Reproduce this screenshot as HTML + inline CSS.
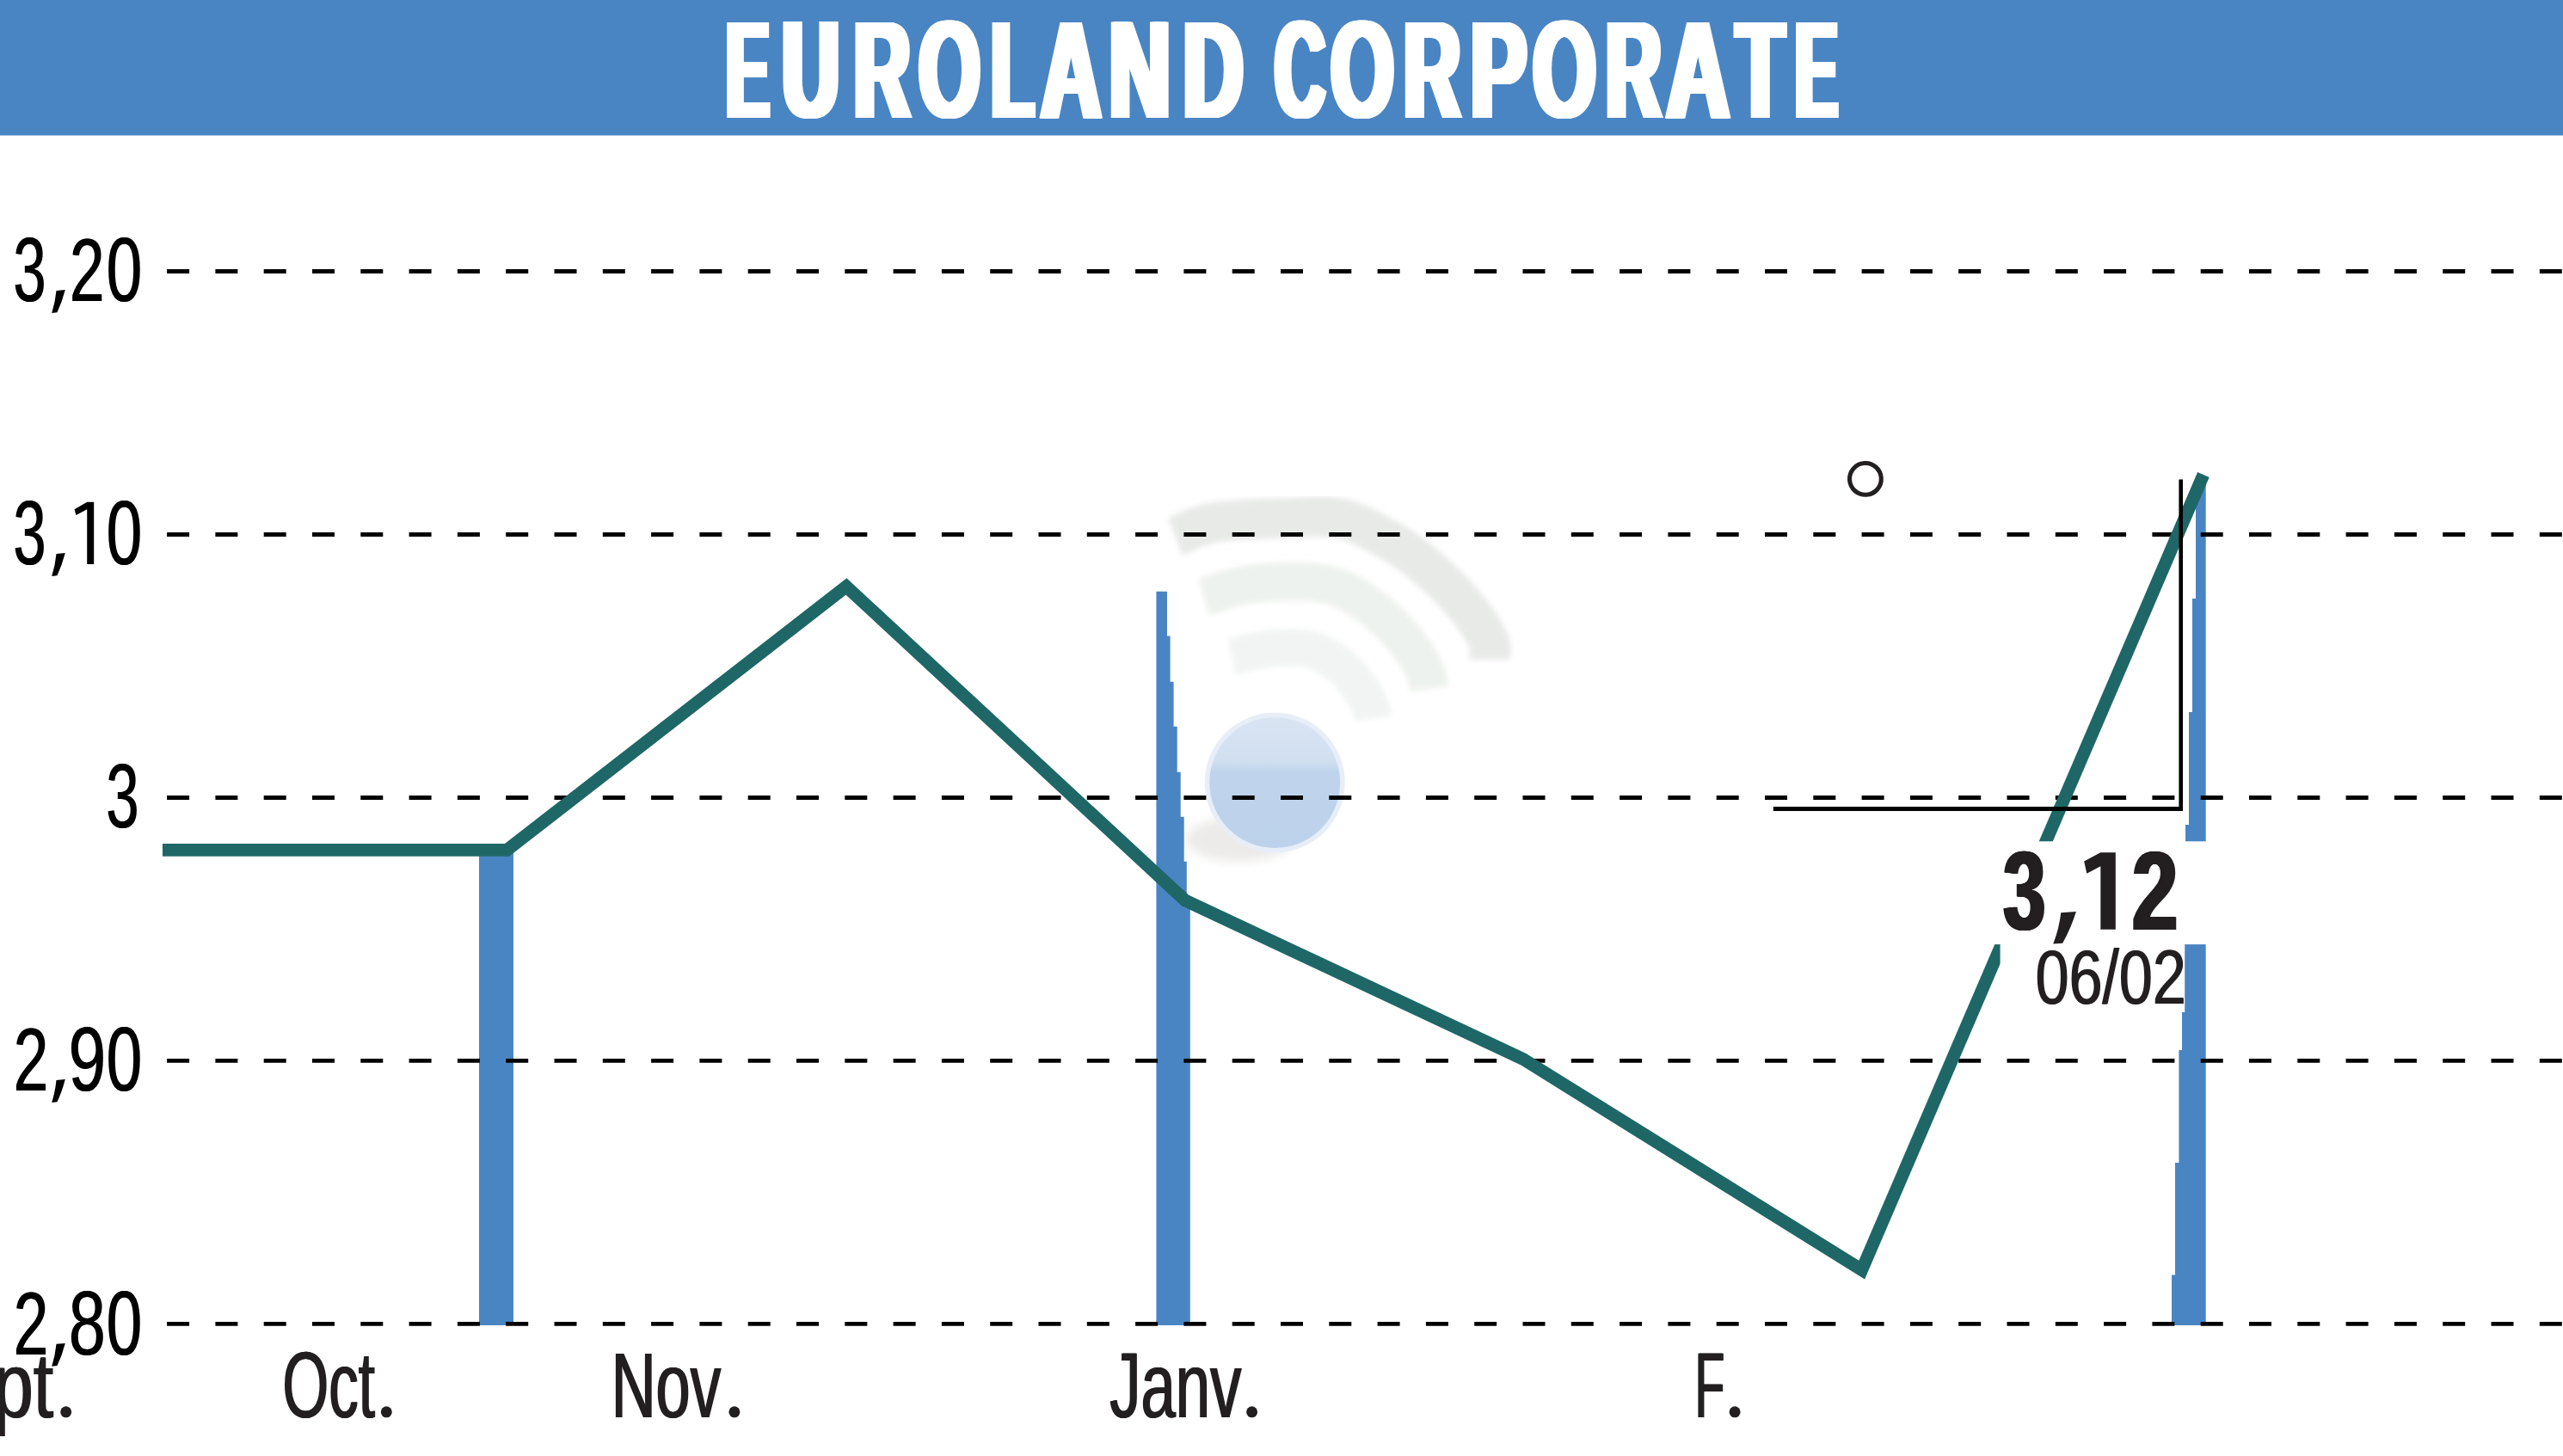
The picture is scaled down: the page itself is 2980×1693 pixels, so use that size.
<!DOCTYPE html>
<html lang="fr">
<head>
<meta charset="utf-8">
<title>EUROLAND CORPORATE</title>
<style>
html,body{margin:0;padding:0;background:#fff;}
body{width:2980px;height:1693px;overflow:hidden;position:relative;}
svg{position:absolute;left:0;top:0;display:block;}
text{font-family:"Liberation Sans",sans-serif;white-space:pre;}
</style>
</head>
<body>
<svg width="2980" height="1693" viewBox="0 0 2980 1693">
<defs>
<filter id="blur3" x="-10%" y="-10%" width="120%" height="120%"><feGaussianBlur stdDeviation="3"/></filter>
<filter id="blur6" x="-20%" y="-50%" width="140%" height="200%"><feGaussianBlur stdDeviation="6"/></filter>
<linearGradient id="ballg" x1="0" y1="0" x2="0" y2="1">
<stop offset="0" stop-color="#d9e4f3"/><stop offset="0.34" stop-color="#d1dff0"/>
<stop offset="0.42" stop-color="#bfd4ec"/><stop offset="1" stop-color="#bcd2ea"/>
</linearGradient>
</defs>
<rect x="0" y="0" width="2980" height="1693" fill="#fff"/>

<rect x="0" y="0" width="2980" height="157.5" fill="#4a85c3"/>
<g id="title">
<text transform="translate(840.23,136.50) scale(0.4556,1)" font-size="162.06" font-weight="700" fill="#fff">E</text>
<text transform="translate(841.04,136.50) scale(0.4556,1)" font-size="162.06" font-weight="700" fill="#fff">E</text>
<text transform="translate(841.86,136.50) scale(0.4556,1)" font-size="162.06" font-weight="700" fill="#fff">E</text>
<text transform="translate(842.68,136.50) scale(0.4556,1)" font-size="162.06" font-weight="700" fill="#fff">E</text>
<text transform="translate(843.50,136.50) scale(0.4556,1)" font-size="162.06" font-weight="700" fill="#fff">E</text>
<text transform="translate(844.32,136.50) scale(0.4556,1)" font-size="162.06" font-weight="700" fill="#fff">E</text>
<text transform="translate(845.14,136.50) scale(0.4556,1)" font-size="162.06" font-weight="700" fill="#fff">E</text>
<text transform="translate(845.95,136.50) scale(0.4556,1)" font-size="162.06" font-weight="700" fill="#fff">E</text>
<text transform="translate(846.77,136.50) scale(0.4556,1)" font-size="162.06" font-weight="700" fill="#fff">E</text>
<text transform="translate(847.59,136.50) scale(0.4556,1)" font-size="162.06" font-weight="700" fill="#fff">E</text>
<text transform="translate(848.41,136.50) scale(0.4556,1)" font-size="162.06" font-weight="700" fill="#fff">E</text>
<text transform="translate(849.23,136.50) scale(0.4556,1)" font-size="162.06" font-weight="700" fill="#fff">E</text>
<text transform="translate(905.10,136.38) scale(0.5664,1)" font-size="161.89" font-weight="700" fill="#fff">U</text>
<text transform="translate(905.92,136.38) scale(0.5664,1)" font-size="161.89" font-weight="700" fill="#fff">U</text>
<text transform="translate(906.73,136.38) scale(0.5664,1)" font-size="161.89" font-weight="700" fill="#fff">U</text>
<text transform="translate(907.55,136.38) scale(0.5664,1)" font-size="161.89" font-weight="700" fill="#fff">U</text>
<text transform="translate(908.37,136.38) scale(0.5664,1)" font-size="161.89" font-weight="700" fill="#fff">U</text>
<text transform="translate(909.19,136.38) scale(0.5664,1)" font-size="161.89" font-weight="700" fill="#fff">U</text>
<text transform="translate(910.01,136.38) scale(0.5664,1)" font-size="161.89" font-weight="700" fill="#fff">U</text>
<text transform="translate(910.83,136.38) scale(0.5664,1)" font-size="161.89" font-weight="700" fill="#fff">U</text>
<text transform="translate(911.64,136.38) scale(0.5664,1)" font-size="161.89" font-weight="700" fill="#fff">U</text>
<text transform="translate(912.46,136.38) scale(0.5664,1)" font-size="161.89" font-weight="700" fill="#fff">U</text>
<text transform="translate(913.28,136.38) scale(0.5664,1)" font-size="161.89" font-weight="700" fill="#fff">U</text>
<text transform="translate(914.10,136.38) scale(0.5664,1)" font-size="161.89" font-weight="700" fill="#fff">U</text>
<text transform="translate(988.54,136.50) scale(0.5569,1)" font-size="162.06" font-weight="700" fill="#fff">R</text>
<text transform="translate(989.36,136.50) scale(0.5569,1)" font-size="162.06" font-weight="700" fill="#fff">R</text>
<text transform="translate(990.18,136.50) scale(0.5569,1)" font-size="162.06" font-weight="700" fill="#fff">R</text>
<text transform="translate(991.00,136.50) scale(0.5569,1)" font-size="162.06" font-weight="700" fill="#fff">R</text>
<text transform="translate(991.82,136.50) scale(0.5569,1)" font-size="162.06" font-weight="700" fill="#fff">R</text>
<text transform="translate(992.63,136.50) scale(0.5569,1)" font-size="162.06" font-weight="700" fill="#fff">R</text>
<text transform="translate(993.45,136.50) scale(0.5569,1)" font-size="162.06" font-weight="700" fill="#fff">R</text>
<text transform="translate(994.27,136.50) scale(0.5569,1)" font-size="162.06" font-weight="700" fill="#fff">R</text>
<text transform="translate(995.09,136.50) scale(0.5569,1)" font-size="162.06" font-weight="700" fill="#fff">R</text>
<text transform="translate(995.91,136.50) scale(0.5569,1)" font-size="162.06" font-weight="700" fill="#fff">R</text>
<text transform="translate(996.73,136.50) scale(0.5569,1)" font-size="162.06" font-weight="700" fill="#fff">R</text>
<text transform="translate(997.54,136.50) scale(0.5569,1)" font-size="162.06" font-weight="700" fill="#fff">R</text>
<text transform="translate(1063.94,136.38) scale(0.5676,1)" font-size="161.72" font-weight="700" fill="#fff">O</text>
<text transform="translate(1064.79,136.38) scale(0.5676,1)" font-size="161.72" font-weight="700" fill="#fff">O</text>
<text transform="translate(1065.64,136.38) scale(0.5676,1)" font-size="161.72" font-weight="700" fill="#fff">O</text>
<text transform="translate(1066.49,136.38) scale(0.5676,1)" font-size="161.72" font-weight="700" fill="#fff">O</text>
<text transform="translate(1067.34,136.38) scale(0.5676,1)" font-size="161.72" font-weight="700" fill="#fff">O</text>
<text transform="translate(1068.19,136.38) scale(0.5676,1)" font-size="161.72" font-weight="700" fill="#fff">O</text>
<text transform="translate(1069.04,136.38) scale(0.5676,1)" font-size="161.72" font-weight="700" fill="#fff">O</text>
<text transform="translate(1069.89,136.38) scale(0.5676,1)" font-size="161.72" font-weight="700" fill="#fff">O</text>
<text transform="translate(1070.74,136.38) scale(0.5676,1)" font-size="161.72" font-weight="700" fill="#fff">O</text>
<text transform="translate(1071.59,136.38) scale(0.5676,1)" font-size="161.72" font-weight="700" fill="#fff">O</text>
<text transform="translate(1072.44,136.38) scale(0.5676,1)" font-size="161.72" font-weight="700" fill="#fff">O</text>
<text transform="translate(1148.37,136.50) scale(0.4984,1)" font-size="162.06" font-weight="700" fill="#fff">L</text>
<text transform="translate(1149.19,136.50) scale(0.4984,1)" font-size="162.06" font-weight="700" fill="#fff">L</text>
<text transform="translate(1150.01,136.50) scale(0.4984,1)" font-size="162.06" font-weight="700" fill="#fff">L</text>
<text transform="translate(1150.82,136.50) scale(0.4984,1)" font-size="162.06" font-weight="700" fill="#fff">L</text>
<text transform="translate(1151.64,136.50) scale(0.4984,1)" font-size="162.06" font-weight="700" fill="#fff">L</text>
<text transform="translate(1152.46,136.50) scale(0.4984,1)" font-size="162.06" font-weight="700" fill="#fff">L</text>
<text transform="translate(1153.28,136.50) scale(0.4984,1)" font-size="162.06" font-weight="700" fill="#fff">L</text>
<text transform="translate(1154.10,136.50) scale(0.4984,1)" font-size="162.06" font-weight="700" fill="#fff">L</text>
<text transform="translate(1154.91,136.50) scale(0.4984,1)" font-size="162.06" font-weight="700" fill="#fff">L</text>
<text transform="translate(1155.73,136.50) scale(0.4984,1)" font-size="162.06" font-weight="700" fill="#fff">L</text>
<text transform="translate(1156.55,136.50) scale(0.4984,1)" font-size="162.06" font-weight="700" fill="#fff">L</text>
<text transform="translate(1157.37,136.50) scale(0.4984,1)" font-size="162.06" font-weight="700" fill="#fff">L</text>
<text transform="translate(1206.09,136.50) scale(0.5941,1)" font-size="162.06" font-weight="700" fill="#fff">A</text>
<text transform="translate(1206.91,136.50) scale(0.5941,1)" font-size="162.06" font-weight="700" fill="#fff">A</text>
<text transform="translate(1207.73,136.50) scale(0.5941,1)" font-size="162.06" font-weight="700" fill="#fff">A</text>
<text transform="translate(1208.54,136.50) scale(0.5941,1)" font-size="162.06" font-weight="700" fill="#fff">A</text>
<text transform="translate(1209.36,136.50) scale(0.5941,1)" font-size="162.06" font-weight="700" fill="#fff">A</text>
<text transform="translate(1210.18,136.50) scale(0.5941,1)" font-size="162.06" font-weight="700" fill="#fff">A</text>
<text transform="translate(1211.00,136.50) scale(0.5941,1)" font-size="162.06" font-weight="700" fill="#fff">A</text>
<text transform="translate(1211.82,136.50) scale(0.5941,1)" font-size="162.06" font-weight="700" fill="#fff">A</text>
<text transform="translate(1212.63,136.50) scale(0.5941,1)" font-size="162.06" font-weight="700" fill="#fff">A</text>
<text transform="translate(1213.45,136.50) scale(0.5941,1)" font-size="162.06" font-weight="700" fill="#fff">A</text>
<text transform="translate(1214.27,136.50) scale(0.5941,1)" font-size="162.06" font-weight="700" fill="#fff">A</text>
<text transform="translate(1215.09,136.50) scale(0.5941,1)" font-size="162.06" font-weight="700" fill="#fff">A</text>
<text transform="translate(1285.21,136.50) scale(0.6066,1)" font-size="162.06" font-weight="700" fill="#fff">N</text>
<text transform="translate(1286.03,136.50) scale(0.6066,1)" font-size="162.06" font-weight="700" fill="#fff">N</text>
<text transform="translate(1286.85,136.50) scale(0.6066,1)" font-size="162.06" font-weight="700" fill="#fff">N</text>
<text transform="translate(1287.67,136.50) scale(0.6066,1)" font-size="162.06" font-weight="700" fill="#fff">N</text>
<text transform="translate(1288.48,136.50) scale(0.6066,1)" font-size="162.06" font-weight="700" fill="#fff">N</text>
<text transform="translate(1289.30,136.50) scale(0.6066,1)" font-size="162.06" font-weight="700" fill="#fff">N</text>
<text transform="translate(1290.12,136.50) scale(0.6066,1)" font-size="162.06" font-weight="700" fill="#fff">N</text>
<text transform="translate(1290.94,136.50) scale(0.6066,1)" font-size="162.06" font-weight="700" fill="#fff">N</text>
<text transform="translate(1291.76,136.50) scale(0.6066,1)" font-size="162.06" font-weight="700" fill="#fff">N</text>
<text transform="translate(1292.58,136.50) scale(0.6066,1)" font-size="162.06" font-weight="700" fill="#fff">N</text>
<text transform="translate(1293.39,136.50) scale(0.6066,1)" font-size="162.06" font-weight="700" fill="#fff">N</text>
<text transform="translate(1294.21,136.50) scale(0.6066,1)" font-size="162.06" font-weight="700" fill="#fff">N</text>
<text transform="translate(1371.34,136.50) scale(0.5950,1)" font-size="162.06" font-weight="700" fill="#fff">D</text>
<text transform="translate(1372.15,136.50) scale(0.5950,1)" font-size="162.06" font-weight="700" fill="#fff">D</text>
<text transform="translate(1372.97,136.50) scale(0.5950,1)" font-size="162.06" font-weight="700" fill="#fff">D</text>
<text transform="translate(1373.79,136.50) scale(0.5950,1)" font-size="162.06" font-weight="700" fill="#fff">D</text>
<text transform="translate(1374.61,136.50) scale(0.5950,1)" font-size="162.06" font-weight="700" fill="#fff">D</text>
<text transform="translate(1375.43,136.50) scale(0.5950,1)" font-size="162.06" font-weight="700" fill="#fff">D</text>
<text transform="translate(1376.25,136.50) scale(0.5950,1)" font-size="162.06" font-weight="700" fill="#fff">D</text>
<text transform="translate(1377.06,136.50) scale(0.5950,1)" font-size="162.06" font-weight="700" fill="#fff">D</text>
<text transform="translate(1377.88,136.50) scale(0.5950,1)" font-size="162.06" font-weight="700" fill="#fff">D</text>
<text transform="translate(1378.70,136.50) scale(0.5950,1)" font-size="162.06" font-weight="700" fill="#fff">D</text>
<text transform="translate(1379.52,136.50) scale(0.5950,1)" font-size="162.06" font-weight="700" fill="#fff">D</text>
<text transform="translate(1380.34,136.50) scale(0.5950,1)" font-size="162.06" font-weight="700" fill="#fff">D</text>
<text transform="translate(1477.99,136.38) scale(0.4992,1)" font-size="161.72" font-weight="700" fill="#fff">C</text>
<text transform="translate(1478.84,136.38) scale(0.4992,1)" font-size="161.72" font-weight="700" fill="#fff">C</text>
<text transform="translate(1479.69,136.38) scale(0.4992,1)" font-size="161.72" font-weight="700" fill="#fff">C</text>
<text transform="translate(1480.54,136.38) scale(0.4992,1)" font-size="161.72" font-weight="700" fill="#fff">C</text>
<text transform="translate(1481.39,136.38) scale(0.4992,1)" font-size="161.72" font-weight="700" fill="#fff">C</text>
<text transform="translate(1482.24,136.38) scale(0.4992,1)" font-size="161.72" font-weight="700" fill="#fff">C</text>
<text transform="translate(1483.09,136.38) scale(0.4992,1)" font-size="161.72" font-weight="700" fill="#fff">C</text>
<text transform="translate(1483.94,136.38) scale(0.4992,1)" font-size="161.72" font-weight="700" fill="#fff">C</text>
<text transform="translate(1484.79,136.38) scale(0.4992,1)" font-size="161.72" font-weight="700" fill="#fff">C</text>
<text transform="translate(1485.64,136.38) scale(0.4992,1)" font-size="161.72" font-weight="700" fill="#fff">C</text>
<text transform="translate(1486.49,136.38) scale(0.4992,1)" font-size="161.72" font-weight="700" fill="#fff">C</text>
<text transform="translate(1542.93,136.38) scale(0.5836,1)" font-size="161.72" font-weight="700" fill="#fff">O</text>
<text transform="translate(1543.78,136.38) scale(0.5836,1)" font-size="161.72" font-weight="700" fill="#fff">O</text>
<text transform="translate(1544.63,136.38) scale(0.5836,1)" font-size="161.72" font-weight="700" fill="#fff">O</text>
<text transform="translate(1545.48,136.38) scale(0.5836,1)" font-size="161.72" font-weight="700" fill="#fff">O</text>
<text transform="translate(1546.33,136.38) scale(0.5836,1)" font-size="161.72" font-weight="700" fill="#fff">O</text>
<text transform="translate(1547.18,136.38) scale(0.5836,1)" font-size="161.72" font-weight="700" fill="#fff">O</text>
<text transform="translate(1548.03,136.38) scale(0.5836,1)" font-size="161.72" font-weight="700" fill="#fff">O</text>
<text transform="translate(1548.88,136.38) scale(0.5836,1)" font-size="161.72" font-weight="700" fill="#fff">O</text>
<text transform="translate(1549.73,136.38) scale(0.5836,1)" font-size="161.72" font-weight="700" fill="#fff">O</text>
<text transform="translate(1550.58,136.38) scale(0.5836,1)" font-size="161.72" font-weight="700" fill="#fff">O</text>
<text transform="translate(1551.43,136.38) scale(0.5836,1)" font-size="161.72" font-weight="700" fill="#fff">O</text>
<text transform="translate(1627.69,136.50) scale(0.5617,1)" font-size="162.06" font-weight="700" fill="#fff">R</text>
<text transform="translate(1628.51,136.50) scale(0.5617,1)" font-size="162.06" font-weight="700" fill="#fff">R</text>
<text transform="translate(1629.33,136.50) scale(0.5617,1)" font-size="162.06" font-weight="700" fill="#fff">R</text>
<text transform="translate(1630.15,136.50) scale(0.5617,1)" font-size="162.06" font-weight="700" fill="#fff">R</text>
<text transform="translate(1630.96,136.50) scale(0.5617,1)" font-size="162.06" font-weight="700" fill="#fff">R</text>
<text transform="translate(1631.78,136.50) scale(0.5617,1)" font-size="162.06" font-weight="700" fill="#fff">R</text>
<text transform="translate(1632.60,136.50) scale(0.5617,1)" font-size="162.06" font-weight="700" fill="#fff">R</text>
<text transform="translate(1633.42,136.50) scale(0.5617,1)" font-size="162.06" font-weight="700" fill="#fff">R</text>
<text transform="translate(1634.24,136.50) scale(0.5617,1)" font-size="162.06" font-weight="700" fill="#fff">R</text>
<text transform="translate(1635.06,136.50) scale(0.5617,1)" font-size="162.06" font-weight="700" fill="#fff">R</text>
<text transform="translate(1635.87,136.50) scale(0.5617,1)" font-size="162.06" font-weight="700" fill="#fff">R</text>
<text transform="translate(1636.69,136.50) scale(0.5617,1)" font-size="162.06" font-weight="700" fill="#fff">R</text>
<text transform="translate(1705.59,136.50) scale(0.5996,1)" font-size="162.06" font-weight="700" fill="#fff">P</text>
<text transform="translate(1706.40,136.50) scale(0.5996,1)" font-size="162.06" font-weight="700" fill="#fff">P</text>
<text transform="translate(1707.22,136.50) scale(0.5996,1)" font-size="162.06" font-weight="700" fill="#fff">P</text>
<text transform="translate(1708.04,136.50) scale(0.5996,1)" font-size="162.06" font-weight="700" fill="#fff">P</text>
<text transform="translate(1708.86,136.50) scale(0.5996,1)" font-size="162.06" font-weight="700" fill="#fff">P</text>
<text transform="translate(1709.68,136.50) scale(0.5996,1)" font-size="162.06" font-weight="700" fill="#fff">P</text>
<text transform="translate(1710.50,136.50) scale(0.5996,1)" font-size="162.06" font-weight="700" fill="#fff">P</text>
<text transform="translate(1711.31,136.50) scale(0.5996,1)" font-size="162.06" font-weight="700" fill="#fff">P</text>
<text transform="translate(1712.13,136.50) scale(0.5996,1)" font-size="162.06" font-weight="700" fill="#fff">P</text>
<text transform="translate(1712.95,136.50) scale(0.5996,1)" font-size="162.06" font-weight="700" fill="#fff">P</text>
<text transform="translate(1713.77,136.50) scale(0.5996,1)" font-size="162.06" font-weight="700" fill="#fff">P</text>
<text transform="translate(1714.59,136.50) scale(0.5996,1)" font-size="162.06" font-weight="700" fill="#fff">P</text>
<text transform="translate(1777.93,136.38) scale(0.5836,1)" font-size="161.72" font-weight="700" fill="#fff">O</text>
<text transform="translate(1778.78,136.38) scale(0.5836,1)" font-size="161.72" font-weight="700" fill="#fff">O</text>
<text transform="translate(1779.63,136.38) scale(0.5836,1)" font-size="161.72" font-weight="700" fill="#fff">O</text>
<text transform="translate(1780.48,136.38) scale(0.5836,1)" font-size="161.72" font-weight="700" fill="#fff">O</text>
<text transform="translate(1781.33,136.38) scale(0.5836,1)" font-size="161.72" font-weight="700" fill="#fff">O</text>
<text transform="translate(1782.18,136.38) scale(0.5836,1)" font-size="161.72" font-weight="700" fill="#fff">O</text>
<text transform="translate(1783.03,136.38) scale(0.5836,1)" font-size="161.72" font-weight="700" fill="#fff">O</text>
<text transform="translate(1783.88,136.38) scale(0.5836,1)" font-size="161.72" font-weight="700" fill="#fff">O</text>
<text transform="translate(1784.73,136.38) scale(0.5836,1)" font-size="161.72" font-weight="700" fill="#fff">O</text>
<text transform="translate(1785.58,136.38) scale(0.5836,1)" font-size="161.72" font-weight="700" fill="#fff">O</text>
<text transform="translate(1786.43,136.38) scale(0.5836,1)" font-size="161.72" font-weight="700" fill="#fff">O</text>
<text transform="translate(1862.84,136.50) scale(0.5482,1)" font-size="162.06" font-weight="700" fill="#fff">R</text>
<text transform="translate(1863.65,136.50) scale(0.5482,1)" font-size="162.06" font-weight="700" fill="#fff">R</text>
<text transform="translate(1864.47,136.50) scale(0.5482,1)" font-size="162.06" font-weight="700" fill="#fff">R</text>
<text transform="translate(1865.29,136.50) scale(0.5482,1)" font-size="162.06" font-weight="700" fill="#fff">R</text>
<text transform="translate(1866.11,136.50) scale(0.5482,1)" font-size="162.06" font-weight="700" fill="#fff">R</text>
<text transform="translate(1866.93,136.50) scale(0.5482,1)" font-size="162.06" font-weight="700" fill="#fff">R</text>
<text transform="translate(1867.75,136.50) scale(0.5482,1)" font-size="162.06" font-weight="700" fill="#fff">R</text>
<text transform="translate(1868.56,136.50) scale(0.5482,1)" font-size="162.06" font-weight="700" fill="#fff">R</text>
<text transform="translate(1869.38,136.50) scale(0.5482,1)" font-size="162.06" font-weight="700" fill="#fff">R</text>
<text transform="translate(1870.20,136.50) scale(0.5482,1)" font-size="162.06" font-weight="700" fill="#fff">R</text>
<text transform="translate(1871.02,136.50) scale(0.5482,1)" font-size="162.06" font-weight="700" fill="#fff">R</text>
<text transform="translate(1871.84,136.50) scale(0.5482,1)" font-size="162.06" font-weight="700" fill="#fff">R</text>
<text transform="translate(1933.17,136.50) scale(0.6235,1)" font-size="162.06" font-weight="700" fill="#fff">A</text>
<text transform="translate(1933.99,136.50) scale(0.6235,1)" font-size="162.06" font-weight="700" fill="#fff">A</text>
<text transform="translate(1934.81,136.50) scale(0.6235,1)" font-size="162.06" font-weight="700" fill="#fff">A</text>
<text transform="translate(1935.63,136.50) scale(0.6235,1)" font-size="162.06" font-weight="700" fill="#fff">A</text>
<text transform="translate(1936.45,136.50) scale(0.6235,1)" font-size="162.06" font-weight="700" fill="#fff">A</text>
<text transform="translate(1937.27,136.50) scale(0.6235,1)" font-size="162.06" font-weight="700" fill="#fff">A</text>
<text transform="translate(1938.08,136.50) scale(0.6235,1)" font-size="162.06" font-weight="700" fill="#fff">A</text>
<text transform="translate(1938.90,136.50) scale(0.6235,1)" font-size="162.06" font-weight="700" fill="#fff">A</text>
<text transform="translate(1939.72,136.50) scale(0.6235,1)" font-size="162.06" font-weight="700" fill="#fff">A</text>
<text transform="translate(1940.54,136.50) scale(0.6235,1)" font-size="162.06" font-weight="700" fill="#fff">A</text>
<text transform="translate(1941.36,136.50) scale(0.6235,1)" font-size="162.06" font-weight="700" fill="#fff">A</text>
<text transform="translate(1942.17,136.50) scale(0.6235,1)" font-size="162.06" font-weight="700" fill="#fff">A</text>
<text transform="translate(2014.40,136.50) scale(0.5606,1)" font-size="162.06" font-weight="700" fill="#fff">T</text>
<text transform="translate(2015.22,136.50) scale(0.5606,1)" font-size="162.06" font-weight="700" fill="#fff">T</text>
<text transform="translate(2016.04,136.50) scale(0.5606,1)" font-size="162.06" font-weight="700" fill="#fff">T</text>
<text transform="translate(2016.86,136.50) scale(0.5606,1)" font-size="162.06" font-weight="700" fill="#fff">T</text>
<text transform="translate(2017.67,136.50) scale(0.5606,1)" font-size="162.06" font-weight="700" fill="#fff">T</text>
<text transform="translate(2018.49,136.50) scale(0.5606,1)" font-size="162.06" font-weight="700" fill="#fff">T</text>
<text transform="translate(2019.31,136.50) scale(0.5606,1)" font-size="162.06" font-weight="700" fill="#fff">T</text>
<text transform="translate(2020.13,136.50) scale(0.5606,1)" font-size="162.06" font-weight="700" fill="#fff">T</text>
<text transform="translate(2020.95,136.50) scale(0.5606,1)" font-size="162.06" font-weight="700" fill="#fff">T</text>
<text transform="translate(2021.76,136.50) scale(0.5606,1)" font-size="162.06" font-weight="700" fill="#fff">T</text>
<text transform="translate(2022.58,136.50) scale(0.5606,1)" font-size="162.06" font-weight="700" fill="#fff">T</text>
<text transform="translate(2023.40,136.50) scale(0.5606,1)" font-size="162.06" font-weight="700" fill="#fff">T</text>
<text transform="translate(2083.21,136.50) scale(0.4480,1)" font-size="162.06" font-weight="700" fill="#fff">E</text>
<text transform="translate(2084.03,136.50) scale(0.4480,1)" font-size="162.06" font-weight="700" fill="#fff">E</text>
<text transform="translate(2084.84,136.50) scale(0.4480,1)" font-size="162.06" font-weight="700" fill="#fff">E</text>
<text transform="translate(2085.66,136.50) scale(0.4480,1)" font-size="162.06" font-weight="700" fill="#fff">E</text>
<text transform="translate(2086.48,136.50) scale(0.4480,1)" font-size="162.06" font-weight="700" fill="#fff">E</text>
<text transform="translate(2087.30,136.50) scale(0.4480,1)" font-size="162.06" font-weight="700" fill="#fff">E</text>
<text transform="translate(2088.12,136.50) scale(0.4480,1)" font-size="162.06" font-weight="700" fill="#fff">E</text>
<text transform="translate(2088.94,136.50) scale(0.4480,1)" font-size="162.06" font-weight="700" fill="#fff">E</text>
<text transform="translate(2089.75,136.50) scale(0.4480,1)" font-size="162.06" font-weight="700" fill="#fff">E</text>
<text transform="translate(2090.57,136.50) scale(0.4480,1)" font-size="162.06" font-weight="700" fill="#fff">E</text>
<text transform="translate(2091.39,136.50) scale(0.4480,1)" font-size="162.06" font-weight="700" fill="#fff">E</text>
<text transform="translate(2092.21,136.50) scale(0.4480,1)" font-size="162.06" font-weight="700" fill="#fff">E</text>
</g>
<g id="watermark">
<ellipse cx="1441" cy="976" rx="62" ry="26" fill="#ecebe9" filter="url(#blur6)"/>
<g fill="none" stroke-linecap="butt" stroke-linejoin="round" filter="url(#blur3)">
<path d="M1366.5,623.9 C1374.0,621.1 1390.5,611.0 1411.8,607.4 C1433.1,603.8 1470.2,603.1 1494.2,602.2 C1518.2,601.3 1537.8,598.9 1556.0,602.2 C1574.2,605.5 1587.9,613.7 1603.4,621.8 C1618.9,629.9 1632.7,637.7 1648.8,650.7 C1664.9,663.8 1686.6,684.3 1700.3,700.1 C1714.0,715.9 1726.0,734.4 1731.2,745.5 C1736.4,756.6 1731.2,763.4 1731.2,767.0" stroke="#e8eae8" stroke-width="47"/>
<path d="M1399.5,693.9 C1408.4,691.5 1431.0,682.2 1453.0,679.5 C1475.0,676.8 1510.7,675.1 1531.3,677.5 C1551.9,679.9 1563.0,686.4 1576.7,693.9 C1590.5,701.4 1602.8,712.5 1613.8,722.8 C1624.8,733.1 1635.0,745.1 1642.6,755.8 C1650.1,766.4 1656.0,779.2 1659.1,786.7 C1662.2,794.2 1660.8,798.7 1661.1,801.1" stroke="#eef2ee" stroke-width="45"/>
<path d="M1432.4,764.0 C1439.3,762.5 1458.8,756.2 1473.6,754.7 C1488.4,753.2 1507.2,751.8 1521.0,754.7 C1534.8,757.6 1546.1,764.8 1556.1,772.2 C1566.1,779.6 1574.3,790.1 1580.8,799.0 C1587.3,807.9 1592.6,819.8 1595.2,825.8 C1597.8,831.8 1596.0,833.5 1596.2,835.1" stroke="#f1f4f3" stroke-width="43"/>
</g>
<circle cx="1482.2" cy="910" r="81.5" fill="#e7eef8"/>
<circle cx="1482.2" cy="910" r="76" fill="url(#ballg)"/>
</g>
<g id="bars" fill="#4a85c3">
<rect x="557" y="988" width="40" height="553"/>
<polygon points="1344.4,1541.0 1344.4,687.7 1357.0,687.7 1357.0,739.6 1360.6,739.6 1360.6,792.8 1364.6,792.8 1364.6,844.7 1368.7,844.7 1368.7,897.8 1372.7,897.8 1372.7,949.8 1376.7,949.8 1376.7,1001.7 1379.8,1001.7 1379.8,1054.0 1383.8,1054.0 1383.8,1541.0"/>
<polygon points="2564.7,1541.0 2564.7,556.0 2553.0,556.0 2553.0,696.0 2549.0,696.0 2549.0,828.0 2545.0,828.0 2545.0,959.0 2541.0,959.0 2541.0,1090.0 2537.0,1090.0 2537.0,1221.0 2533.4,1221.0 2533.4,1352.0 2529.0,1352.0 2529.0,1482.6 2525.0,1482.6 2525.0,1541.0"/>
</g>
<g id="grid" stroke="#000" stroke-width="4.8" stroke-dasharray="26 30.3" fill="none">
<line x1="194.1" y1="315.5" x2="2980" y2="315.5"/>
<line x1="194.1" y1="621.5" x2="2980" y2="621.5"/>
<line x1="194.1" y1="927.5" x2="2980" y2="927.5"/>
<line x1="194.1" y1="1233.4" x2="2980" y2="1233.4"/>
<line x1="194.1" y1="1539.4" x2="2980" y2="1539.4"/>
</g>
<polyline id="price" fill="none" stroke="#1f6767" stroke-width="14.8" stroke-linejoin="miter" stroke-miterlimit="10" points="189,988.4 589.5,988.4 984,682 1378,1047 1771,1231.5 2164.7,1476.6 2561.9,552"/>
<g id="anno" stroke="#000" fill="none"><line x1="2061.8" y1="940.5" x2="2538" y2="940.5" stroke-width="5"/><line x1="2535.7" y1="557.4" x2="2535.7" y2="943" stroke-width="4.6"/><circle cx="2168.9" cy="556.9" r="18.4" stroke="#231f20" stroke-width="5.1" stroke-dasharray="114.9 0.7" transform="rotate(176 2168.9 556.9)"/></g>
<rect x="2306" y="978.3" width="280" height="119.8" fill="#fff"/>
<rect x="2325.6" y="1097" width="214.6" height="80" fill="#fff"/>
<text transform="translate(2327.26,1080.87) scale(0.6765,1)" font-size="130.04" font-weight="700" fill="#231f20">3</text>
<text transform="translate(2328.06,1080.87) scale(0.6765,1)" font-size="130.04" font-weight="700" fill="#231f20">3</text>
<text transform="translate(2328.86,1080.87) scale(0.6765,1)" font-size="130.04" font-weight="700" fill="#231f20">3</text>
<text transform="translate(2329.66,1080.87) scale(0.6765,1)" font-size="130.04" font-weight="700" fill="#231f20">3</text>
<text transform="translate(2330.46,1080.87) scale(0.6765,1)" font-size="130.04" font-weight="700" fill="#231f20">3</text>
<text transform="translate(2331.26,1080.87) scale(0.6765,1)" font-size="130.04" font-weight="700" fill="#231f20">3</text>
<text transform="translate(2476.95,1080.80) scale(0.7345,1)" font-size="129.94" font-weight="700" fill="#231f20">2</text>
<text transform="translate(2477.75,1080.80) scale(0.7345,1)" font-size="129.94" font-weight="700" fill="#231f20">2</text>
<text transform="translate(2478.55,1080.80) scale(0.7345,1)" font-size="129.94" font-weight="700" fill="#231f20">2</text>
<text transform="translate(2479.35,1080.80) scale(0.7345,1)" font-size="129.94" font-weight="700" fill="#231f20">2</text>
<text transform="translate(2480.15,1080.80) scale(0.7345,1)" font-size="129.94" font-weight="700" fill="#231f20">2</text>
<text transform="translate(2480.95,1080.80) scale(0.7345,1)" font-size="129.94" font-weight="700" fill="#231f20">2</text>
<polygon fill="#231f20" points="2442.34,991.20 2459.80,991.20 2459.80,1080.80 2442.34,1080.80 2442.34,1007.33 2426.27,1015.84 2423.20,1001.59"/>
<path fill="#231f20" d="M2396.28,1061.22 L2413.90,1060.10 Q2407.89,1079.60 2398.15,1096.77 L2387.20,1097.60 Q2394.14,1079.60 2396.28,1061.22 Z"/>
<text transform="translate(2366.07,1166.50) scale(0.7787,1)" font-size="89.83" fill="#231f20">06/02</text>
<text transform="translate(2367.27,1166.50) scale(0.7787,1)" font-size="89.83" fill="#231f20">06/02</text>
<text transform="translate(15.11,350.05) scale(0.6508,1)" font-size="104.80" fill="#000">3</text>
<text transform="translate(16.11,350.05) scale(0.6508,1)" font-size="104.80" fill="#000">3</text>
<path fill="#000" d="M65.50,337.90 L75.80,337.10 Q72.21,351.04 66.44,363.31 L60.20,363.90 Q64.26,351.04 65.50,337.90 Z"/>
<text transform="translate(80.46,349.90) scale(0.6962,1)" font-size="104.58" fill="#000">2</text>
<text transform="translate(81.46,349.90) scale(0.6962,1)" font-size="104.58" fill="#000">2</text>
<text transform="translate(123.19,350.05) scale(0.7112,1)" font-size="104.80" fill="#000">0</text>
<text transform="translate(124.19,350.05) scale(0.7112,1)" font-size="104.80" fill="#000">0</text>
<text transform="translate(15.11,656.05) scale(0.6508,1)" font-size="104.80" fill="#000">3</text>
<text transform="translate(16.11,656.05) scale(0.6508,1)" font-size="104.80" fill="#000">3</text>
<path fill="#000" d="M65.50,643.90 L75.80,643.10 Q72.21,657.04 66.44,669.31 L60.20,669.90 Q64.26,657.04 65.50,643.90 Z"/>
<polygon fill="#000" points="101.22,583.70 109.20,583.70 109.20,655.90 101.22,655.90 101.22,592.22 88.41,598.93 86.60,592.36"/>
<text transform="translate(123.19,656.05) scale(0.7112,1)" font-size="104.80" fill="#000">0</text>
<text transform="translate(124.19,656.05) scale(0.7112,1)" font-size="104.80" fill="#000">0</text>
<text transform="translate(123.11,962.05) scale(0.6508,1)" font-size="104.80" fill="#000">3</text>
<text transform="translate(124.11,962.05) scale(0.6508,1)" font-size="104.80" fill="#000">3</text>
<text transform="translate(15.36,1267.90) scale(0.6962,1)" font-size="104.58" fill="#000">2</text>
<text transform="translate(16.36,1267.90) scale(0.6962,1)" font-size="104.58" fill="#000">2</text>
<path fill="#000" d="M65.50,1255.90 L75.80,1255.10 Q72.21,1269.04 66.44,1281.31 L60.20,1281.90 Q64.26,1269.04 65.50,1255.90 Z"/>
<text transform="translate(79.31,1268.05) scale(0.7440,1)" font-size="104.80" fill="#000">9</text>
<text transform="translate(80.31,1268.05) scale(0.7440,1)" font-size="104.80" fill="#000">9</text>
<text transform="translate(123.19,1268.05) scale(0.7112,1)" font-size="104.80" fill="#000">0</text>
<text transform="translate(124.19,1268.05) scale(0.7112,1)" font-size="104.80" fill="#000">0</text>
<text transform="translate(15.36,1574.70) scale(0.6962,1)" font-size="104.58" fill="#000">2</text>
<text transform="translate(16.36,1574.70) scale(0.6962,1)" font-size="104.58" fill="#000">2</text>
<path fill="#000" d="M65.50,1562.70 L75.80,1561.90 Q72.21,1575.84 66.44,1588.11 L60.20,1588.70 Q64.26,1575.84 65.50,1562.70 Z"/>
<text transform="translate(79.60,1574.85) scale(0.7329,1)" font-size="104.80" fill="#000">8</text>
<text transform="translate(80.60,1574.85) scale(0.7329,1)" font-size="104.80" fill="#000">8</text>
<text transform="translate(123.19,1574.85) scale(0.7112,1)" font-size="104.80" fill="#000">0</text>
<text transform="translate(124.19,1574.85) scale(0.7112,1)" font-size="104.80" fill="#000">0</text>
<text transform="translate(327.76,1648.41) scale(0.6342,1)" font-size="108.76" fill="#231f20">Oct</text>
<text transform="translate(328.56,1648.41) scale(0.6342,1)" font-size="108.76" fill="#231f20">Oct</text>
<text transform="translate(329.36,1648.41) scale(0.6342,1)" font-size="108.76" fill="#231f20">Oct</text>
<text transform="translate(710.12,1648.00) scale(0.6661,1)" font-size="107.56" fill="#231f20">Nov</text>
<text transform="translate(710.92,1648.00) scale(0.6661,1)" font-size="107.56" fill="#231f20">Nov</text>
<text transform="translate(711.72,1648.00) scale(0.6661,1)" font-size="107.56" fill="#231f20">Nov</text>
<text transform="translate(1289.41,1647.93) scale(0.6747,1)" font-size="107.45" fill="#231f20">Janv</text>
<text transform="translate(1290.21,1647.93) scale(0.6747,1)" font-size="107.45" fill="#231f20">Janv</text>
<text transform="translate(1291.01,1647.93) scale(0.6747,1)" font-size="107.45" fill="#231f20">Janv</text>
<text transform="translate(1969.86,1648.00) scale(0.5267,1)" font-size="107.56" fill="#231f20">F</text>
<text transform="translate(1970.66,1648.00) scale(0.5267,1)" font-size="107.56" fill="#231f20">F</text>
<text transform="translate(1971.46,1648.00) scale(0.5267,1)" font-size="107.56" fill="#231f20">F</text>
<text transform="translate(-8.89,1648.30) scale(0.7839,1)" font-size="107.50" fill="#231f20">pt</text>
<text transform="translate(-8.09,1648.30) scale(0.7839,1)" font-size="107.50" fill="#231f20">pt</text>
<text transform="translate(-7.29,1648.30) scale(0.7839,1)" font-size="107.50" fill="#231f20">pt</text>
<circle cx="449.3" cy="1641.8" r="6.5" fill="#231f20"/>
<circle cx="853.9" cy="1641.8" r="6.5" fill="#231f20"/>
<circle cx="1455.6" cy="1641.8" r="6.5" fill="#231f20"/>
<circle cx="2017.1" cy="1641.8" r="6.5" fill="#231f20"/>
<circle cx="76.7" cy="1641.8" r="6.5" fill="#231f20"/>
</svg>
</body>
</html>
